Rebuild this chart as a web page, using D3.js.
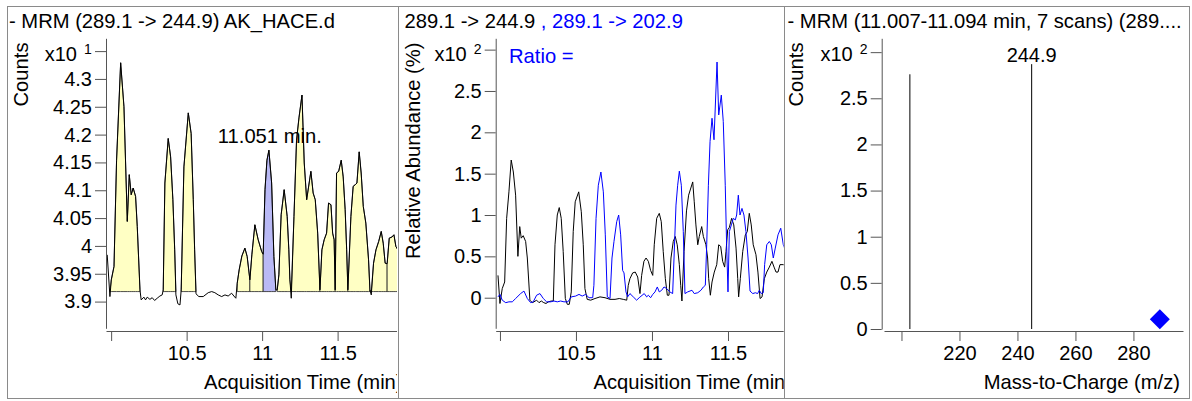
<!DOCTYPE html>
<html>
<head>
<meta charset="utf-8">
<script src="https://cdn.jsdelivr.net/npm/d3@7"></script>
<style>
  html, body { margin: 0; padding: 0; background: #fff; }
  svg { display: block; }
</style>
</head>
<body>
<svg id="chart" width="1192" height="401"></svg>
<script>
// ---------- Quantifier trace: MRM 289.1 -> 244.9 (counts, x10^1) ----------
const ticTimes = [
  9.974, 9.992, 10.001, 10.019, 10.036, 10.063, 10.085, 10.107, 10.120, 10.133,
  10.146, 10.162, 10.173, 10.191, 10.199, 10.217, 10.228, 10.239, 10.257, 10.272,
  10.288, 10.305, 10.323, 10.338, 10.345, 10.356, 10.378, 10.394, 10.409, 10.421,
  10.429, 10.442, 10.456, 10.464, 10.482, 10.511, 10.530, 10.544, 10.553, 10.562,
  10.581, 10.610, 10.643, 10.666, 10.687, 10.709, 10.732, 10.754, 10.775, 10.798,
  10.813, 10.826, 10.835, 10.848, 10.866, 10.886, 10.901, 10.919, 10.932, 10.952,
  10.974, 10.997, 11.007, 11.019, 11.032, 11.045, 11.063, 11.078, 11.091, 11.100,
  11.111, 11.126, 11.146, 11.166, 11.177, 11.184, 11.193, 11.211, 11.228, 11.244,
  11.264, 11.279, 11.295, 11.323, 11.338, 11.352, 11.368, 11.383, 11.396, 11.411,
  11.427, 11.440, 11.456, 11.467, 11.477, 11.484, 11.493, 11.507, 11.524, 11.537,
  11.550, 11.560, 11.568, 11.588, 11.603, 11.617, 11.628, 11.643, 11.656, 11.670,
  11.687, 11.705, 11.714, 11.723, 11.738, 11.754, 11.772, 11.789, 11.802, 11.815,
  11.828, 11.842, 11.860, 11.873, 11.886, 11.906
];
const ticCounts = [
  3.984, 3.909, 3.939, 3.963, 4.154, 4.329, 4.250, 4.044, 4.128, 4.092,
  4.104, 4.089, 4.035, 3.921, 3.903, 3.908, 3.903, 3.908, 3.904, 3.907,
  3.902, 3.906, 3.910, 3.912, 3.921, 4.113, 4.193, 4.160, 4.083, 3.993,
  3.912, 3.896, 3.894, 3.921, 4.142, 4.239, 4.202, 4.083, 3.993, 3.914,
  3.909, 3.909, 3.916, 3.918, 3.916, 3.912, 3.909, 3.912, 3.910, 3.915,
  3.910, 3.906, 3.933, 3.957, 3.982, 3.996, 3.981, 3.939, 3.984, 4.038,
  4.011, 3.990, 3.985, 4.101, 4.154, 4.172, 4.113, 3.981, 3.921, 3.921,
  3.948, 4.056, 4.101, 4.053, 3.993, 3.939, 3.906, 4.053, 4.190, 4.230,
  4.271, 4.149, 4.083, 4.134, 4.095, 4.083, 4.023, 3.921, 3.993, 4.011,
  4.023, 4.077, 4.074, 4.023, 4.011, 3.921, 4.131, 4.134, 4.154, 4.124,
  4.065, 3.993, 3.921, 4.053, 4.107, 4.110, 4.113, 4.169, 4.131, 4.071,
  4.041, 3.975, 3.921, 3.912, 3.969, 3.993, 4.008, 4.026, 4.005, 3.969,
  3.968, 4.014, 4.016, 4.020, 3.999, 3.990
];

// Integrated peak windows (min) and the integration baseline
const peakStarts = [9.992, 10.345, 10.464, 10.835, 10.919, 11.007, 11.100, 11.193, 11.383, 11.484, 11.568, 11.714, 11.828];
const peakEnds   = [10.191, 10.429, 10.562, 10.919, 11.007, 11.091, 11.193, 11.383, 11.484, 11.568, 11.714, 11.828, 11.906];
const selectedPeakIndex = 5;
const selectedRt = 11.051;
const integrationBaseline = 3.918;

const ticYTicks = [3.9, 3.95, 4, 4.05, 4.1, 4.15, 4.2, 4.25, 4.3, 4.35];
const timeTicks = [10, 10.5, 11, 11.5];

// ---------- Qualifier overlay (relative abundance %, x10^2) ----------
const quantTimes = [
  9.987, 10.000, 10.015, 10.031, 10.044, 10.059, 10.074, 10.088, 10.103, 10.118,
  10.130, 10.140, 10.153, 10.169, 10.180, 10.197, 10.213, 10.224, 10.241, 10.257,
  10.272, 10.288, 10.303, 10.318, 10.338, 10.351, 10.362, 10.377, 10.390, 10.403,
  10.416, 10.430, 10.443, 10.456, 10.469, 10.482, 10.495, 10.518, 10.535, 10.548,
  10.559, 10.574, 10.597, 10.625, 10.658, 10.691, 10.724, 10.757, 10.785, 10.811,
  10.834, 10.844, 10.855, 10.873, 10.890, 10.906, 10.921, 10.932, 10.947, 10.961,
  10.976, 10.991, 11.005, 11.015, 11.031, 11.048, 11.061, 11.074, 11.088, 11.101,
  11.112, 11.125, 11.140, 11.153, 11.166, 11.180, 11.189, 11.197, 11.211, 11.227,
  11.241, 11.268, 11.278, 11.289, 11.301, 11.311, 11.327, 11.338, 11.355, 11.366,
  11.373, 11.384, 11.395, 11.410, 11.426, 11.439, 11.452, 11.465, 11.478, 11.487,
  11.498, 11.509, 11.524, 11.538, 11.553, 11.564, 11.570, 11.581, 11.597, 11.614,
  11.627, 11.640, 11.653, 11.666, 11.684, 11.697, 11.711, 11.724, 11.739, 11.755,
  11.772, 11.789, 11.803, 11.816, 11.829, 11.842, 11.864, 11.882
];
const quantAbundance = [
  0.27, -0.07, 0.11, 0.19, 0.96, 1.28, 1.665, 1.52, 1.24, 0.50,
  0.86, 0.72, 0.75, 0.68, 0.48, -0.03, -0.06, -0.05, -0.03, -0.06,
  -0.04, -0.06, -0.07, -0.05, -0.04, -0.04, 0.64, 1.00, 1.09, 0.96,
  0.56, -0.01, -0.08, -0.08, 0.07, 0.80, 1.16, 1.28, 1.04, 0.64,
  0.11, -0.02, -0.03, -0.01, 0.01, 0.00, -0.02, -0.02, -0.01, -0.02,
  -0.03, 0.15, 0.23, 0.30, 0.31, 0.25, 0.05, 0.27, 0.44, 0.48,
  0.44, 0.33, 0.27, 0.64, 0.96, 1.02, 0.92, 0.56, 0.23, 0.03,
  0.03, 0.48, 0.68, 0.74, 0.64, 0.40, 0.15, -0.04, 0.56, 1.05,
  1.24, 1.40, 1.16, 0.88, 0.64, 0.74, 0.86, 0.74, 0.64, 0.48,
  0.23, 0.03, 0.19, 0.31, 0.40, 0.64, 0.62, 0.44, 0.37, 0.56,
  0.82, 0.85, 0.96, 0.88, 0.60, 0.23, 0.01, 0.23, 0.56, 0.76,
  0.80, 1.02, 0.88, 0.64, 0.52, 0.31, -0.01, 0.01, 0.23, 0.31,
  0.37, 0.44, 0.37, 0.31, 0.31, 0.40, 0.40, 0.38
];
const qualTimes = [
  9.987, 10.000, 10.015, 10.038, 10.059, 10.081, 10.103, 10.136, 10.158, 10.180,
  10.202, 10.219, 10.241, 10.263, 10.285, 10.307, 10.334, 10.355, 10.377, 10.399,
  10.421, 10.447, 10.469, 10.498, 10.520, 10.541, 10.564, 10.586, 10.610, 10.618,
  10.632, 10.647, 10.664, 10.680, 10.693, 10.706, 10.724, 10.737, 10.750, 10.768,
  10.781, 10.794, 10.807, 10.816, 10.829, 10.840, 10.855, 10.877, 10.899, 10.916,
  10.949, 10.965, 10.976, 10.991, 11.005, 11.020, 11.035, 11.048, 11.064, 11.079,
  11.097, 11.118, 11.136, 11.145, 11.158, 11.169, 11.180, 11.193, 11.206, 11.217,
  11.235, 11.263, 11.278, 11.301, 11.322, 11.338, 11.351, 11.360, 11.371, 11.382,
  11.395, 11.408, 11.428, 11.439, 11.456, 11.469, 11.482, 11.491, 11.500, 11.509,
  11.522, 11.535, 11.548, 11.557, 11.568, 11.579, 11.592, 11.605, 11.618, 11.632,
  11.645, 11.663, 11.680, 11.695, 11.706, 11.719, 11.732, 11.741, 11.755, 11.772,
  11.785, 11.798, 11.811, 11.829, 11.847, 11.864, 11.882
];
const qualAbundance = [
  0.01, 0.04, -0.03, -0.06, -0.05, -0.05, -0.01, 0.05, 0.08, -0.01,
  -0.06, -0.05, 0.03, 0.05, -0.01, -0.05, -0.05, -0.04, -0.05, -0.04,
  -0.05, -0.05, 0.01, 0.02, 0.04, 0.02, 0.04, 0.00, 0.00, 0.15,
  0.96, 1.36, 1.52, 1.28, 0.76, 0.01, -0.01, 0.48, 0.68, 0.92,
  1.00, 0.76, 0.33, 0.30, 0.07, 0.01, 0.05, 0.01, -0.03, 0.00,
  0.05, 0.01, 0.03, 0.00, 0.04, 0.07, 0.13, 0.07, 0.09, 0.13,
  0.11, 0.07, 0.05, 0.48, 1.12, 1.36, 1.53, 1.36, 0.80, 0.05,
  0.07, 0.09, 0.05, 0.06, 0.09, 0.13, 0.15, 0.64, 1.36, 1.89,
  2.17, 1.91, 2.85, 2.21, 2.45, 2.13, 1.36, 0.64, 0.07, 0.80,
  0.88, 0.96, 0.94, 1.00, 1.24, 1.00, 1.08, 1.00, 0.80, 0.48,
  0.08, 0.05, 0.06, 0.05, 0.09, 0.05, 0.06, 0.40, 0.64, 0.68,
  0.64, 0.48, 0.60, 0.76, 0.84, 0.64, 0.55
];
const abundanceTicks = [0, 0.5, 1, 1.5, 2, 2.5, 3];

// ---------- Product-ion spectrum (counts, x10^2) ----------
const spectrumMz = [202.9, 244.9];
const spectrumCounts = [276, 287];
const precursorMz = 289.1;
const precursorMarkCounts = 10.5;
const spectrumYTicks = [0, 0.5, 1, 1.5, 2, 2.5, 3];
const mzTicks = [200, 220, 240, 260, 280];

// ---------- drawing ----------
const FONT = '"Liberation Sans", Arial, Helvetica, sans-serif';
const AXIS = "#555";
const TXT = 20.2;   // titles and axis labels
const TICK = 20;    // tick labels
const svg = d3.select("#chart");
const defs = svg.append("defs");
svg.attr("font-family", FONT);

function clipRect(id, x, y, w, h) {
  defs.append("clipPath").attr("id", id)
    .append("rect").attr("x", x).attr("y", y).attr("width", w).attr("height", h);
  return `url(#${id})`;
}
function addText(g, x, y, str, o = {}) {
  return g.append("text")
    .attr("x", x).attr("y", y)
    .attr("font-size", o.size || TXT)
    .attr("fill", o.color || "#000")
    .attr("text-anchor", o.anchor || "start")
    .text(str);
}
function styleAxis(g, size) {
  g.attr("font-family", FONT).attr("font-size", size);
  g.selectAll("path.domain").attr("stroke", AXIS);
  g.selectAll(".tick line").attr("stroke", AXIS);
  g.selectAll(".tick text").attr("fill", "#000");
}
function yAxisWithExponent(g, scale, ticks, axisX, exponent) {
  const top = ticks[ticks.length - 1];
  const ax = g.append("g").attr("transform", `translate(${axisX},0)`)
    .call(d3.axisLeft(scale).tickValues(ticks).tickSize(11).tickSizeOuter(0)
      .tickPadding(3).tickFormat(d => d === top ? "" : String(d)));
  styleAxis(ax, TICK);
  addText(g, axisX - 29, 60.5, "x10", { size: TICK, anchor: "end" });
  addText(g, axisX - 22, 54, String(exponent), { size: 14 });
}
function rotatedLabel(g, x, y, str) {
  g.append("text")
    .attr("transform", `translate(${x},${y}) rotate(-90)`)
    .attr("text-anchor", "end").attr("font-size", TXT).attr("fill", "#000")
    .text(str);
}

// ===== Panel 1: quantifier chromatogram =====
{
  const g = svg.append("g");
  const clip = clipRect("clipTic", 7, 6, 390, 393);
  const x = d3.scaleLinear().domain([9.966, 12.0]).range([106, 413.1]);
  const y = d3.scaleLinear().domain([3.852, 4.373]).range([328.3, 38.3]);
  const pts = ticTimes.map((t, i) => ({ t, v: ticCounts[i] }));

  const plot = g.append("g").attr("clip-path", clip);
  const area = d3.area()
    .x(d => x(d.t))
    .y0(y(integrationBaseline))
    .y1(d => y(Math.max(d.v, integrationBaseline)));
  peakStarts.forEach((a, i) => {
    const b = peakEnds[i];
    const seg = pts.filter(p => p.t >= a - 1e-6 && p.t <= b + 1e-6);
    plot.append("path").datum(seg)
      .attr("d", area)
      .attr("fill", i === selectedPeakIndex ? "#b9b9f5" : "#ffffc4")
      .attr("stroke", "#222").attr("stroke-width", 0.8);
  });
  plot.append("path").datum(pts)
    .attr("d", d3.line().x(d => x(d.t)).y(d => y(d.v)))
    .attr("fill", "none").attr("stroke", "#000").attr("stroke-width", 1);

  // retention-time label over the selected peak
  const sel = pts.filter(p => p.t >= peakStarts[selectedPeakIndex] && p.t <= peakEnds[selectedPeakIndex]);
  const apex = d3.max(sel, d => d.v);
  addText(plot, x(selectedRt), y(apex) - 7, `${selectedRt.toFixed(3)} min.`, { anchor: "middle" });

  const xa = plot.append("g").attr("transform", "translate(0,331)")
    .call(d3.axisBottom(x).tickValues(timeTicks).tickSize(10).tickSizeOuter(0)
      .tickPadding(5).tickFormat(d => d === timeTicks[0] ? "" : String(d)));
  styleAxis(xa, TICK);
  addText(plot, 204, 388.5, "Acquisition Time (min)");

  yAxisWithExponent(g, y, ticYTicks, 106, 1);
  rotatedLabel(g, 28, 42.5, "Counts");
  addText(g, 9, 27.5, "- MRM (289.1 -> 244.9) AK_HACE.d");
}

// ===== Panel 2: quantifier / qualifier overlay =====
{
  const g = svg.append("g");
  const clip = clipRect("clipRatio", 398, 6, 385.7, 393);
  const x = d3.scaleLinear().domain([9.972, 12.0]).range([495.7, 804]);
  const y = d3.scaleLinear().domain([-0.37, 3.137]).range([328.3, 38.3]);
  const plot = g.append("g").attr("clip-path", clip);
  const line = d3.line().x(d => x(d[0])).y(d => y(d[1]));

  plot.append("path").datum(quantTimes.map((t, i) => [t, quantAbundance[i]]))
    .attr("d", line).attr("fill", "none").attr("stroke", "#000").attr("stroke-width", 1);
  plot.append("path").datum(qualTimes.map((t, i) => [t, qualAbundance[i]]))
    .attr("d", line).attr("fill", "none").attr("stroke", "#0000ff").attr("stroke-width", 1);

  const xa = plot.append("g").attr("transform", "translate(0,331)")
    .call(d3.axisBottom(x).tickValues(timeTicks).tickSize(10).tickSizeOuter(0)
      .tickPadding(5).tickFormat(d => d === timeTicks[0] ? "" : String(d)));
  styleAxis(xa, TICK);
  addText(plot, 593.5, 388.5, "Acquisition Time (min)");

  yAxisWithExponent(g, y, abundanceTicks, 495.7, 2);
  rotatedLabel(g, 419.5, 42.5, "Relative Abundance (%)");

  const title = g.append("text").attr("x", 404.5).attr("y", 28).attr("font-size", TXT)
    .attr("xml:space", "preserve");
  title.append("tspan").attr("fill", "#000").text("289.1 -> 244.9");
  title.append("tspan").attr("fill", "#0000ff").text(" , 289.1 -> 202.9");
  addText(g, 509, 62.5, "Ratio =", { color: "#0000ff" });
}

// ===== Panel 3: product-ion spectrum =====
{
  const g = svg.append("g");
  const x = d3.scaleLinear().domain([193.97, 297.1]).range([884, 1183]);
  const y = d3.scaleLinear().domain([0, 3.15]).range([329, 38.3]);

  g.selectAll("line.stick").data(spectrumMz).join("line")
    .attr("class", "stick")
    .attr("x1", d => x(d)).attr("x2", d => x(d))
    .attr("y1", y(0)).attr("y2", (d, i) => y(spectrumCounts[i] / 100))
    .attr("stroke", "#000").attr("stroke-width", 1);

  const iMax = d3.maxIndex(spectrumCounts);
  addText(g, x(spectrumMz[iMax]), y(spectrumCounts[iMax] / 100) - 2.5,
    spectrumMz[iMax].toFixed(1), { size: TICK, anchor: "middle" });

  g.append("path")
    .attr("d", d3.symbol(d3.symbolSquare, 200)())
    .attr("transform", `translate(${x(precursorMz)},${y(precursorMarkCounts / 100)}) rotate(45)`)
    .attr("fill", "#0000ff");

  const xa = g.append("g").attr("transform", "translate(0,331)")
    .call(d3.axisBottom(x).tickValues(mzTicks).tickSize(10).tickSizeOuter(0)
      .tickPadding(5).tickFormat(d => d === mzTicks[0] ? "" : String(d)));
  styleAxis(xa, TICK);
  addText(g, 1180, 388.5, "Mass-to-Charge (m/z)", { anchor: "end" });

  yAxisWithExponent(g, y, spectrumYTicks, 881.7, 2);
  rotatedLabel(g, 803, 42.5, "Counts");
  addText(g, 787.5, 28, "- MRM (11.007-11.094 min, 7 scans) (289....");
}

// ===== Panel frames =====
const frame = svg.append("g").attr("fill", "none").attr("stroke", "#8a8a8a").attr("stroke-width", 1);
frame.append("rect").attr("x", 7.5).attr("y", 6.5).attr("width", 1182).attr("height", 392);
[398.5, 784.5].forEach(px => frame.append("line")
  .attr("x1", px).attr("x2", px).attr("y1", 6.5).attr("y2", 398.5));
</script>
</body>
</html>
